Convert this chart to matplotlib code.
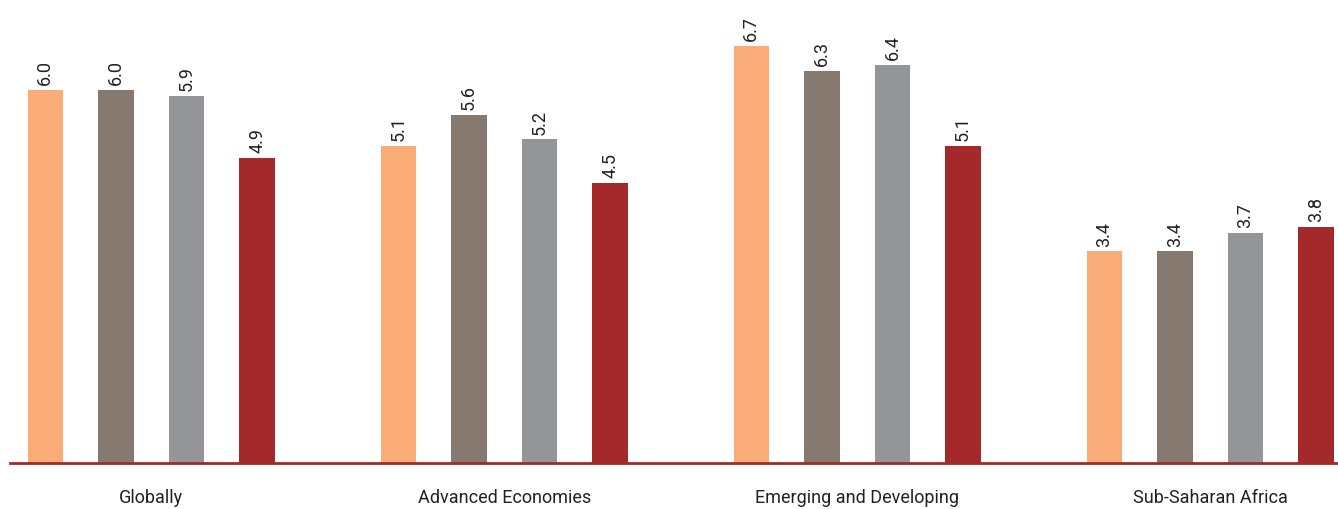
import numpy as np
import matplotlib
matplotlib.use('Agg')
import matplotlib.pyplot as plt

plt.rcParams['font.family'] = ['Roboto', 'DejaVu Sans']

regions = ['Globally', 'Advanced Economies', 'Emerging and Developing', 'Sub-Saharan Africa']
series1 = [6.0, 5.1, 6.7, 3.4]
series2 = [6.0, 5.6, 6.3, 3.4]
series3 = [5.9, 5.2, 6.4, 3.7]
series4 = [4.9, 4.5, 5.1, 3.8]
colors = ['#F9AC78', '#857970', '#949599', '#A4292B']

fig = plt.figure(figsize=(13.38, 5.09), dpi=100)
ax = fig.add_axes([10/1338, 46/509, 1328/1338, 463/509])

base = np.arange(len(regions)) * 5
for i, (vals, col) in enumerate(zip([series1, series2, series3, series4], colors)):
    xs = base + i
    ax.bar(xs, vals, width=0.5, color=col, zorder=2)
    for x, v in zip(xs, vals):
        ax.annotate(f'{v:.1f}', (x, v), xytext=(0, 3.5), textcoords='offset points',
                    rotation=90, ha='center', va='bottom', fontsize=13, color='#222222')

ax.set_xlim(-0.5, 18.31)
ax.set_ylim(0, 7.44)
ax.set_xticks(base + 1.5)
ax.set_xticklabels(regions, fontsize=13, color='#222222')
ax.tick_params(axis='x', length=0, pad=19)
ax.set_yticks([])
for s in ['top', 'right', 'left']:
    ax.spines[s].set_visible(False)
ax.spines['bottom'].set_color('#A4292B')
ax.spines['bottom'].set_linewidth(2)

fig.savefig('out.png', dpi=100)
